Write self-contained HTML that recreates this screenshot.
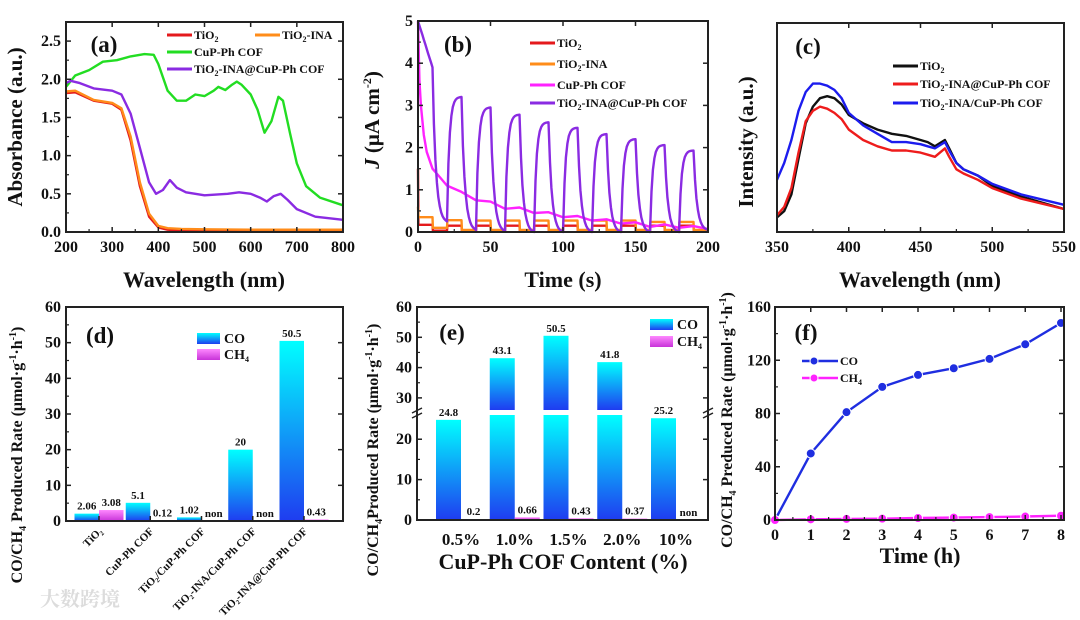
<!DOCTYPE html>
<html><head><meta charset="utf-8"><style>
html,body{margin:0;padding:0;background:#fff;width:1080px;height:620px;overflow:hidden}
svg{display:block;font-family:"Liberation Serif","Noto Serif CJK SC",serif;font-weight:bold}
</style></head><body>
<svg id="fig" width="1080" height="620" viewBox="0 0 1080 620" xmlns="http://www.w3.org/2000/svg">
<defs>
<linearGradient id="gCO" x1="0" y1="0" x2="0" y2="1"><stop offset="0" stop-color="#00ffff"/><stop offset="1" stop-color="#1f3cf0"/></linearGradient>
<linearGradient id="gCH" x1="0" y1="0" x2="0" y2="1"><stop offset="0" stop-color="#ff88ff"/><stop offset="1" stop-color="#c833d8"/></linearGradient>
</defs>
</svg>
<script>
// ---------- data ----------
const aWl=[200,220,260,300,320,340,360,380,400,420,450,500,600,700,800];
const aTiO2=[1.82,1.83,1.72,1.68,1.6,1.2,0.6,0.2,0.06,0.03,0.02,0.015,0.01,0.01,0.01];
const aTiO2INA=[1.84,1.85,1.73,1.69,1.62,1.25,0.65,0.24,0.08,0.05,0.04,0.035,0.03,0.03,0.03];
const aCofWl=[200,220,250,280,310,340,370,390,400,420,440,460,480,500,520,530,545,560,570,580,600,615,630,645,660,670,685,700,720,750,800];
const aCof=[1.9,2.05,2.12,2.23,2.25,2.3,2.33,2.32,2.2,1.85,1.72,1.72,1.8,1.78,1.85,1.9,1.86,1.93,1.97,1.93,1.8,1.6,1.3,1.45,1.77,1.72,1.3,0.9,0.6,0.45,0.35];
const aCompWl=[200,210,230,260,300,320,340,360,380,395,410,425,440,460,500,550,575,600,620,635,650,665,680,700,740,800];
const aComp=[1.95,1.98,1.95,1.88,1.85,1.8,1.55,1.1,0.65,0.5,0.55,0.68,0.58,0.52,0.48,0.5,0.52,0.5,0.45,0.4,0.47,0.5,0.42,0.3,0.2,0.16];

const bCycleStart=[0,20,40,60,80,100,120,140,160,180];
const bCompPeak=[3.9,3.2,2.95,2.78,2.6,2.47,2.32,2.2,2.06,1.93];
const bCompMin=[0.25,0.05,0.02,0,0,0,0,0,0,0.05];
const bInaOn=[0.35,0.28,0.27,0.27,0.27,0.27,0.27,0.27,0.24,0.24];
const bInaOff=[0.1,0.05,0.05,0.05,0.05,0.05,0.05,0.05,0.05,0.05];
const bTiOn=[0.17,0.15,0.15,0.15,0.15,0.15,0.15,0.15,0.15,0.15];
const bTiOff=[0.03,0.02,0.02,0.02,0.02,0.02,0.02,0.02,0.02,0.02];
const bCofT=[0,1,2,4,6,10,15,20,30,40,50,60,70,80,90,100,110,120,130,140,150,160,170,180,190,200];
const bCof=[5,3.6,3,2.3,1.9,1.5,1.3,1.1,0.95,0.75,0.72,0.55,0.58,0.45,0.47,0.35,0.38,0.27,0.3,0.2,0.23,0.12,0.18,0.1,0.14,0.07];

const cWl=[350,355,360,365,370,375,380,385,390,395,400,410,420,430,440,450,455,460,467,470,475,480,490,500,520,550];
const cTiO2=[7,10,18,35,52,60,64,65,64,61,56,52,49,47,46,44,43,41,44,40,33,30,27,22,17,11];
const cAt=[8,12,21,38,53,58,60,59,57,54,49,44,41,39,39,38,37,36,40,36,30,28,25,21,16,11];
const cSlash=[25,33,44,58,67,71,71,70,68,64,57,51,47,43,43,42,41,40,43,39,33,30,27,23,18,13];

const dCats=["TiO\u2082","CuP-Ph COF","TiO\u2082/CuP-Ph COF","TiO\u2082-INA/CuP-Ph COF","TiO\u2082-INA@CuP-Ph COF"];
const dCO=[2.06,5.1,1.02,20,50.5];
const dCH4=[3.08,0.12,0,0,0.43];
const dCOlbl=["2.06","5.1","1.02","20","50.5"];
const dCH4lbl=["3.08","0.12","non","non","0.43"];

const eCats=["0.5%","1.0%","1.5%","2.0%","10%"];
const eCO=[24.8,43.1,50.5,41.8,25.2];
const eCH4=[0.2,0.66,0.43,0.37,0];
const eCOlbl=["24.8","43.1","50.5","41.8","25.2"];
const eCH4lbl=["0.2","0.66","0.43","0.37","non"];

const fT=[0,1,2,3,4,5,6,7,8];
const fCO=[0,50,81,100,109,114,121,132,148];
const fCH4=[0,0.5,0.8,1,1.5,1.8,2.2,2.6,3.2];

// ---------- helpers ----------
const NS="http://www.w3.org/2000/svg";
const svg=document.getElementById('fig');
function mk(tag,at,par){const e=document.createElementNS(NS,tag);for(const k in at)e.setAttribute(k,at[k]);(par||svg).appendChild(e);return e;}
function lin(d0,d1,r0,r1){return v=>r0+(v-d0)*(r1-r0)/(d1-d0);}
function pathOf(xs,ys,fx,fy){return xs.map((x,i)=>(i?'L':'M')+fx(x).toFixed(1)+','+fy(ys[i]).toFixed(1)).join('');}
function txt(x,y,s,size,anchor,par){const t=mk('text',{x:x,y:y,'font-size':size,'text-anchor':anchor||'middle',fill:'#111'},par);t.innerHTML=s;return t;}
function frame(x0,y0,x1,y1,name){const r=mk('rect',{x:x0,y:y0,width:x1-x0,height:y1-y0,fill:'none',stroke:'#222','stroke-width':2});

}
function xTicks(fx,vals,minor,y0,y1,labels,ly,g){vals.forEach((v,i)=>{mk('line',{x1:fx(v),x2:fx(v),y1:y1,y2:y1-5,stroke:'#222','stroke-width':1.5},g);mk('line',{x1:fx(v),x2:fx(v),y1:y0,y2:y0+5,stroke:'#222','stroke-width':1.5},g);if(labels)txt(fx(v),ly,labels[i],16,'middle',g);});
minor.forEach(v=>{mk('line',{x1:fx(v),x2:fx(v),y1:y1,y2:y1-3,stroke:'#222','stroke-width':1.2},g);});}
function yTicks(fy,vals,minor,x0,x1,labels,lx,g){vals.forEach((v,i)=>{mk('line',{x1:x0,x2:x0+5,y1:fy(v),y2:fy(v),stroke:'#222','stroke-width':1.5},g);mk('line',{x1:x1,x2:x1-5,y1:fy(v),y2:fy(v),stroke:'#222','stroke-width':1.5},g);if(labels)txt(lx,fy(v)+5,labels[i],16,'end',g);});
minor.forEach(v=>{mk('line',{x1:x0,x2:x0+3,y1:fy(v),y2:fy(v),stroke:'#222','stroke-width':1.2},g);});}
function legLine(x,y,col,label,g){mk('line',{x1:x,x2:x+25,y1:y,y2:y,stroke:col,'stroke-width':3},g);txt(x+27,y+4,label,12,'start',g);}

// ================= Panel (a) =================
const ga=mk('g',{});


const xa=lin(200,800,66,343), ya=lin(0,2.75,232,22);
[[aWl,aTiO2,'#e41a1c','line-tio2'],[aWl,aTiO2INA,'#ff8c1a','line-tio2-ina'],[aCofWl,aCof,'#22dd22','line-cup-ph-cof'],[aCompWl,aComp,'#8a2be2','line-composite']].forEach(s=>{
const p=mk('path',{d:pathOf(s[0],s[1],xa,ya),fill:'none',stroke:s[2],'stroke-width':2.4,'stroke-linejoin':'round'},ga);

});
xTicks(xa,[200,300,400,500,600,700,800],[250,350,450,550,650,750],22,232,["200","300","400","500","600","700","800"],252,ga);
yTicks(ya,[0,0.5,1,1.5,2,2.5],[0.25,0.75,1.25,1.75,2.25],66,343,["0.0","0.5","1.0","1.5","2.0","2.5"],61,ga);
frame(66,22,343,232,'panel-a-frame');
txt(104,52,'(a)',23,'middle',ga);
legLine(167,35,'#e41a1c','TiO<tspan font-size="8" dy="3">2</tspan>',ga);
legLine(255,35,'#ff8c1a','TiO<tspan font-size="8" dy="3">2</tspan><tspan dy="-3">-INA</tspan>',ga);
legLine(167,52,'#22dd22','CuP-Ph COF',ga);
legLine(167,69,'#8a2be2','TiO<tspan font-size="8" dy="3">2</tspan><tspan dy="-3">-INA@CuP-Ph COF</tspan>',ga);
const atx=txt(204,287,'Wavelength (nm)',22,'middle',ga);


const aty=txt(0,0,'Absorbance (a.u.)',21,'middle',ga);aty.setAttribute('transform','translate(22,127) rotate(-90)');



// ================= Panel (b) =================
const gb=mk('g',{});


const xb=lin(0,200,418,708), yb=lin(0,5,232,21);
let ct=[],cv=[];
bCycleStart.forEach((t0,i)=>{const pk=bCompPeak[i],mn=bCompMin[i],prevMin=i?bCompMin[i-1]:pk;
for(let k=0;k<=10;k++){const t=t0+k;let v;if(i===0)v=5-(5-pk)*k/10;else v=prevMin+(pk-prevMin)*(1-Math.exp(-k/1.6))/(1-Math.exp(-10/1.6));ct.push(t);cv.push(v);}
for(let k=1;k<=10;k++){const t=t0+10+k;ct.push(t);cv.push(mn+(pk-mn)*Math.exp(-k/2.2)-(pk-mn)*Math.exp(-10/2.2)*k/10);}});
function sq(on,off,spike){const t=[0],v=[spike];bCycleStart.forEach((t0,i)=>{t.push(t0+0.3,t0+10,t0+10.3,t0+20);v.push(on[i],on[i],off[i],off[i]);});return [t,v];}
const ina=sq(bInaOn,bInaOff,0.6), ti=sq(bTiOn,bTiOff,1.5);
[[ti[0],ti[1],'#e41a1c','tio2'],[ina[0],ina[1],'#ff8c1a','tio2-ina'],[bCofT,bCof,'#ff22ff','cup-ph-cof'],[ct,cv,'#8a2be2','composite']].forEach(s=>{
const p=mk('path',{d:pathOf(s[0],s[1].map(v=>Math.min(v,5)),xb,yb),fill:'none',stroke:s[2],'stroke-width':2.4,'stroke-linejoin':'round'},gb);

});
xTicks(xb,[0,50,100,150,200],[25,75,125,175],21,232,["0","50","100","150","200"],252,gb);
yTicks(yb,[0,1,2,3,4,5],[0.5,1.5,2.5,3.5,4.5],418,708,["0","1","2","3","4","5"],413,gb);
frame(418,21,708,232,'panel-b-frame');
txt(458,52,'(b)',23,'middle',gb);
legLine(530,43,'#e41a1c','TiO<tspan font-size="8" dy="3">2</tspan>',gb);
legLine(530,64,'#ff8c1a','TiO<tspan font-size="8" dy="3">2</tspan><tspan dy="-3">-INA</tspan>',gb);
legLine(530,85,'#ff22ff','CuP-Ph COF',gb);
legLine(530,103,'#8a2be2','TiO<tspan font-size="8" dy="3">2</tspan><tspan dy="-3">-INA@CuP-Ph COF</tspan>',gb);
const btx=txt(563,287,'Time (s)',22,'middle',gb);


const bty=txt(0,0,'<tspan font-style="italic">J</tspan> (μA cm<tspan font-size="12" dy="-8">-2</tspan><tspan dy="8">)</tspan>',21,'middle',gb);bty.setAttribute('transform','translate(379,120) rotate(-90)');



// ================= Panel (c) =================
const gc=mk('g',{});


const xc=lin(350,550,777,1064), yc=lin(0,100,232,23);
[[cTiO2,'#111','tio2'],[cAt,'#ee1c1c','tio2-ina-at-cof'],[cSlash,'#1c1cee','tio2-ina-slash-cof']].forEach(s=>{
const p=mk('path',{d:pathOf(cWl,s[0],xc,yc),fill:'none',stroke:s[1],'stroke-width':2.4,'stroke-linejoin':'round'},gc);

});
xTicks(xc,[350,400,450,500,550],[375,425,475,525],23,232,["350","400","450","500","550"],252,gc);
frame(777,23,1064,232,'panel-c-frame');
txt(808,54,'(c)',23,'middle',gc);
legLine(893,66,'#111','TiO<tspan font-size="8" dy="3">2</tspan>',gc);
legLine(893,84,'#ee1c1c','TiO<tspan font-size="8" dy="3">2</tspan><tspan dy="-3">-INA@CuP-Ph COF</tspan>',gc);
legLine(893,103,'#1c1cee','TiO<tspan font-size="8" dy="3">2</tspan><tspan dy="-3">-INA/CuP-Ph COF</tspan>',gc);
const ctx=txt(920,287,'Wavelength (nm)',22,'middle',gc);


const cty=txt(0,0,'Intensity (a.u.)',21,'middle',gc);cty.setAttribute('transform','translate(753,142) rotate(-90)');



// ================= Panel (d) =================
const gd=mk('g',{});


const yd=lin(0,60,521,307), xd=i=>99+51.25*i, bw=24.5;
dCats.forEach((c,i)=>{
const r1=mk('rect',{x:xd(i)-bw,y:yd(dCO[i]),width:bw,height:yd(0)-yd(dCO[i]),fill:'url(#gCO)'},gd);


const r2=mk('rect',{x:xd(i),y:yd(dCH4[i]),width:bw,height:yd(0)-yd(dCH4[i]),fill:'url(#gCH)'},gd);


txt(xd(i)-bw/2,yd(dCO[i])-4,dCOlbl[i],11,'middle',gd);
txt(xd(i)+bw/2,yd(dCH4[i])-4,dCH4lbl[i],11,'middle',gd);
const lt=txt(0,0,c,11,'end',gd);lt.setAttribute('transform','translate('+(xd(i)+4)+',532) rotate(-45)');


mk('line',{x1:xd(i),x2:xd(i),y1:521,y2:516,stroke:'#222','stroke-width':1.5},gd);});
yTicks(yd,[0,10,20,30,40,50,60],[5,15,25,35,45,55],66,343,["0","10","20","30","40","50","60"],61,gd);
frame(66,307,343,521,'panel-d-frame');
txt(100,343,'(d)',23,'middle',gd);
mk('rect',{x:197,y:333,width:23,height:11,fill:'url(#gCO)'},gd);txt(224,343,'CO',14,'start',gd);
mk('rect',{x:197,y:349,width:23,height:11,fill:'url(#gCH)'},gd);txt(224,359,'CH<tspan font-size="8" dy="3">4</tspan>',14,'start',gd);
const dty=txt(0,0,'CO/CH<tspan font-size="10" dy="4">4</tspan><tspan dy="-4"> Produced Rate (μmol·g</tspan><tspan font-size="10" dy="-6">-1</tspan><tspan dy="6">·h</tspan><tspan font-size="10" dy="-6">-1</tspan><tspan dy="6">)</tspan>',16,'middle',gd);
dty.setAttribute('transform','translate(22,455) rotate(-90)');


const wm=txt(40,606,'大数跨境',20,'start',gd);wm.setAttribute('fill','#dcdcdc');



// ================= Panel (e) =================
const ge=mk('g',{});


const BRK=26, yeLo=lin(0,BRK,520,415), yeHi=lin(BRK,60,410,307), xe=i=>461+53.75*i, bwe=25;
const ye=v=>v<=BRK?yeLo(v):yeHi(v);
eCats.forEach((c,i)=>{
const v=eCO[i];
const lo=mk('rect',{x:xe(i)-bwe,y:yeLo(Math.min(v,BRK)),width:bwe,height:520-yeLo(Math.min(v,BRK)),fill:'url(#gCO)'},ge);


if(v>BRK){const hi=mk('rect',{x:xe(i)-bwe,y:yeHi(v),width:bwe,height:410-yeHi(v),fill:'url(#gCO)'},ge);

}
const r2=mk('rect',{x:xe(i),y:ye(eCH4[i]),width:bwe,height:520-ye(eCH4[i]),fill:'url(#gCH)'},ge);


txt(xe(i)-bwe/2,ye(v)-4,eCOlbl[i],11,'middle',ge);
txt(xe(i)+bwe/2,ye(eCH4[i])-4,eCH4lbl[i],11,'middle',ge);
txt(xe(i),545,c,17,'middle',ge);});
yTicks(yeLo,[0,10,20],[5,15],417,708,["0","10","20"],412,ge);
yTicks(yeHi,[30,40,50,60],[35,45,55],417,708,["30","40","50","60"],412,ge);
frame(417,307,708,520,'panel-e-frame');
[417,708].forEach(x=>{mk('rect',{x:x-5,y:410,width:10,height:5,fill:'#fff'},ge);
mk('line',{x1:x-5,y1:413,x2:x+5,y2:408,stroke:'#222','stroke-width':1.5},ge);
mk('line',{x1:x-5,y1:418,x2:x+5,y2:413,stroke:'#222','stroke-width':1.5},ge);});
txt(452,340,'(e)',23,'middle',ge);
mk('rect',{x:650,y:319,width:23,height:11,fill:'url(#gCO)'},ge);txt(677,329,'CO',14,'start',ge);
mk('rect',{x:650,y:336,width:23,height:11,fill:'url(#gCH)'},ge);txt(677,346,'CH<tspan font-size="8" dy="3">4</tspan>',14,'start',ge);
const etx=txt(563,569,'CuP-Ph COF Content (%)',22,'middle',ge);


const ety=txt(0,0,'CO/CH<tspan font-size="10" dy="4">4</tspan><tspan dy="-4">Produced Rate (μmol·g</tspan><tspan font-size="10" dy="-6">-1</tspan><tspan dy="6">·h</tspan><tspan font-size="10" dy="-6">-1</tspan><tspan dy="6">)</tspan>',16,'middle',ge);
ety.setAttribute('transform','translate(378,450) rotate(-90)');



// ================= Panel (f) =================
const gf=mk('g',{});


const xf=lin(0,8,775,1061), yf=lin(0,160,520,307);
[[fCO,'#1f2ee0','co'],[fCH4,'#ff22ff','ch4']].forEach(s=>{
const p=mk('path',{d:pathOf(fT,s[0],xf,yf),fill:'none',stroke:s[1],'stroke-width':2.4},gf);


fT.forEach((t,i)=>{const c=mk('circle',{cx:xf(t),cy:yf(s[0][i]),r:4.5,fill:s[1],stroke:'#fff','stroke-width':1},gf);

});});
xTicks(xf,fT,[0.5,1.5,2.5,3.5,4.5,5.5,6.5,7.5],307,520,fT.map(String),540,gf);
yTicks(yf,[0,40,80,120,160],[20,60,100,140],775,1064,["0","40","80","120","160"],771,gf);
frame(775,307,1064,520,'panel-f-frame');
txt(806,340,'(f)',23,'middle',gf);
mk('line',{x1:802,x2:838,y1:361,y2:361,stroke:'#1f2ee0','stroke-width':2.4},gf);mk('circle',{cx:814,cy:361,r:4,fill:'#1f2ee0',stroke:'#fff'},gf);txt(840,365,'CO',12,'start',gf);
mk('line',{x1:802,x2:838,y1:378,y2:378,stroke:'#ff22ff','stroke-width':2.4},gf);mk('circle',{cx:814,cy:378,r:4,fill:'#ff22ff',stroke:'#fff'},gf);txt(840,382,'CH<tspan font-size="8" dy="3">4</tspan>',12,'start',gf);
const ftx=txt(920,563,'Time (h)',22,'middle',gf);


const fty=txt(0,0,'CO/CH<tspan font-size="10" dy="4">4</tspan><tspan dy="-4"> Preduced Rate (μmol·g</tspan><tspan font-size="10" dy="-6">-1</tspan><tspan dy="6">·h</tspan><tspan font-size="10" dy="-6">-1</tspan><tspan dy="6">)</tspan>',16,'middle',gf);
fty.setAttribute('transform','translate(732,420) rotate(-90)');


</script>
</body></html>
